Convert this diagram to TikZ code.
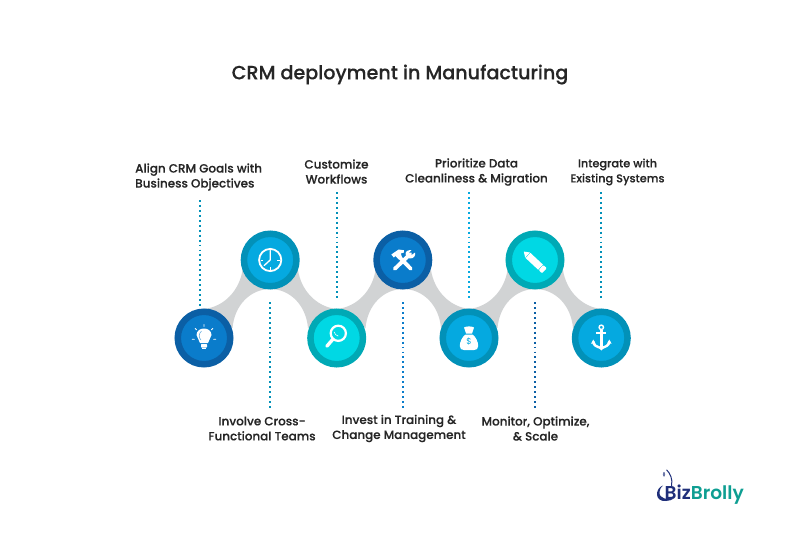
\documentclass[tikz,border=0pt]{standalone}
\usepackage{fontspec}
\setmainfont[FakeBold=0.25]{Poppins Medium}
\newfontfamily\logofont{Poppins SemiBold}
\newfontfamily\dollarfont{Poppins}
\definecolor{ribbon}{HTML}{D1D3D4}
\definecolor{txt}{HTML}{262626}
\definecolor{ringA}{HTML}{0B5FA5}\definecolor{coreA}{HTML}{0A7CCB}
\definecolor{ringB}{HTML}{0291B8}\definecolor{coreB}{HTML}{05A9E0}
\definecolor{ringC}{HTML}{00A9B5}\definecolor{coreC}{HTML}{00D8E4}
\definecolor{logoN}{HTML}{1F2F7A}\definecolor{logoT}{HTML}{0E9E92}
\tikzset{
  disc/.style n args={2}{circle,draw=#1,line width=6.5pt,fill=#2,minimum size=52.5pt,inner sep=0pt},
  lbl/.style={font=\fontsize{11.95}{15}\selectfont,text=txt,align=center,inner sep=0pt},
  dots/.style={line width=1.9pt,dash pattern=on 1.9pt off 3.05pt},
  ribup/.pic={\fill[ribbon] (-1,48) .. controls (20,46) and (35,29) .. (38,9)
     -- (66,28) .. controls (46,28) and (30,44) .. (28,67) -- cycle;},
  ribdn/.pic={\fill[ribbon] (67,48) .. controls (46,46) and (31,29) .. (28,9)
     -- (0,28) .. controls (20,28) and (36,44) .. (38,67) -- cycle;}
}
\begin{document}
\begin{tikzpicture}[x=1pt,y=-1pt]
\useasboundingbox (0,0) rectangle (800,551);
% ribbons
\pic at (204.5,261) {ribup};
\pic at (270,261) {ribdn};
\pic at (337.5,261) {ribup};
\pic at (403,261) {ribdn};
\pic at (469.5,261) {ribup};
\pic at (535,261) {ribdn};
% circles
\node[disc={ringA}{coreA}] (c1) at (204,338) {};
\node[disc={ringB}{coreB}] (c2) at (270.2,260) {};
\node[disc={ringC}{coreC}] (c3) at (336.7,338) {};
\node[disc={ringA}{coreA}] (c4) at (402.8,260) {};
\node[disc={ringB}{coreB}] (c5) at (469,338) {};
\node[disc={ringC}{coreC}] (c6) at (535,260) {};
\node[disc={ringB}{coreB}] (c7) at (601.3,338) {};
% title and labels
\node[font=\fontsize{19.15}{24}\selectfont,text=txt,inner sep=0pt] (title) at (400,74.5) {CRM deployment in Manufacturing};
\node[lbl,align=left,anchor=west] (l1) at (135,177) {Align CRM Goals with\\Business Objectives};
\node[lbl] (l2) at (262,428.5) {Involve Cross-\\Functional Teams};
\node[lbl] (l3) at (336.5,171.5) {Customize\\Workflows};
\node[lbl] (l4) at (399,428.5) {Invest in Training \&\\Change Management};
\node[lbl] (l5) at (476.5,172) {Prioritize Data\\Cleanliness \& Migration};
\node[lbl] (l6) at (535.5,428.5) {Monitor, Optimize,\\\& Scale};
\node[lbl,font=\fontsize{11.3}{15}\selectfont] (l7) at (617.5,172) {Integrate with\\Existing Systems};
% connector end points
\coordinate (a1) at (200,200); \coordinate (b1) at (200,306);
\coordinate (a2) at (270.2,302); \coordinate (b2) at (270.2,408);
\coordinate (a3) at (336.7,192); \coordinate (b3) at (336.7,298);
\coordinate (a4) at (402.8,302); \coordinate (b4) at (402.8,408);
\coordinate (a5) at (469,192); \coordinate (b5) at (469,298);
\coordinate (a6) at (535,302); \coordinate (b6) at (535,408);
\coordinate (a7) at (601.3,192); \coordinate (b7) at (601.3,298);
\draw[dots,ringB] (a1) -- (b1);
\draw[dots,ringB] (a2) -- (b2);
\draw[dots,ringB] (a3) -- (b3);
\draw[dots,coreA] (a4) -- (b4);
\draw[dots,coreB] (a5) -- (b5);
\draw[dots,ringA] (a6) -- (b6);
\draw[dots,ringB] (a7) -- (b7);
% bulb
\begin{scope}[shift={(c1.center)}]
\fill[white] (-4,5) .. controls (-4,1.5) and (-7.5,.5) .. (-7.5,-3)
  .. controls (-7.5,-7) and (-4,-9.5) .. (0,-9.5)
  .. controls (4,-9.5) and (7.5,-7) .. (7.5,-3)
  .. controls (7.5,.5) and (4,1.5) .. (4,5) -- cycle;
\fill[white,rounded corners=.6pt] (-3,6) rectangle (3,9.5);
\fill[white] (-1.6,9.5) rectangle (1.6,11.3);
\draw[coreA!70,line width=.5pt] (-3,2) .. controls (-5.5,-.5) and (-5.5,-4) .. (-2.5,-7);
\draw[white,line width=.8pt,line cap=round]
  (0,-13.5) -- (0,-11.5) (-8.8,-9.5) -- (-7.4,-8.2) (8.8,-9.5) -- (7.4,-8.2)
  (-11.8,1.3) -- (-9.6,1.3) (11.8,1.3) -- (9.6,1.3);
\end{scope}
% clock
\begin{scope}[shift={(c2.center)}]
\draw[white,line width=1.8pt] (0,0) circle[radius=11.1];
\draw[white,line width=1pt] (0,-9.5) -- (0,-7) (0,9.5) -- (0,7) (-9.5,0) -- (-7,0) (9.5,0) -- (7,0);
\draw[white,line width=1.3pt,line join=round,line cap=round] (0,-9.5) -- (0,0) -- (-6,5.5);
\end{scope}
% magnifier
\begin{scope}[shift={(c3.center)}]
\draw[white,line width=2.2pt] (1.6,-4.7) circle[radius=7.6];
\draw[white,line width=.6pt] (-2.5,-6) arc[start angle=170,end angle=100,radius=5];
\draw[white,line width=3.4pt,line cap=round] (-3.8,1.2) -- (-9.8,8.2);
\end{scope}
% tools
\begin{scope}[shift={(c4.center)}]
\draw[white,line width=3.8pt,line cap=round] (-8,8.8) -- (7.5,-6);
\draw[white,line width=3.8pt,line cap=round] (8,8.8) -- (-4,-3.5);
\fill[white] (-11.5,-5.5) -- (-4.2,-10.5) -- (1,-9.8) -- (1,-7.5) -- (-2,-6.5) -- (-1,-3.5) -- (-4,-.5) -- (-7.5,-4) -- (-9,-2.5) -- cycle;
\fill[white] (6.5,-9.8) .. controls (3,-9.5) and (2,-6.5) .. (3.5,-4) -- (7,-1.5) .. controls (11,-1.5) and (13,-4) .. (12.3,-7.5) -- (8.5,-4.8) -- (5.8,-6.8) -- (8.5,-9.8) -- cycle;
\end{scope}
% money bag
\begin{scope}[shift={(c5.center)}]
\fill[white] (-3.5,-3.5) .. controls (-7,-1) and (-9.2,4) .. (-9.2,8)
  .. controls (-9.2,11) and (-7.5,12) .. (-5,12) -- (5,12)
  .. controls (7.5,12) and (9.2,11) .. (9.2,8)
  .. controls (9.2,4) and (7,-1) .. (3.5,-3.5) -- cycle;
\fill[white] (-3,-4.5) -- (-5,-10.5) .. controls (-3,-12) and (3,-12) .. (5,-10.5) -- (3,-4.5) -- cycle;
\node[font=\dollarfont\fontsize{8.5}{9}\selectfont,text=coreB,inner sep=0pt] (dollar) at (0,4) {\$};
\end{scope}
% pencil
\begin{scope}[shift={(535,260)}]
\begin{scope}[shift={(-0.85,1.2)},rotate=-43]
\fill[white] (-14.2,0) -- (-9,-3.5) -- (-9,3.5) -- cycle;
\fill[white] (-8.4,-3.5) -- (8.7,-3.5) -- (8.7,3.5) -- (-8.4,3.5) -- cycle;
\fill[white,rounded corners=1pt] (9.3,-3.5) -- (14,-3.5) -- (14,3.5) -- (9.3,3.5) -- cycle;
\end{scope}
\end{scope}
% anchor
\begin{scope}[shift={(c7.center)}]
\draw[white,line width=1.4pt] (0,-10.7) circle[radius=2.2];
\draw[white,line width=2.4pt] (0,-8.5) -- (0,10);
\draw[white,line width=2pt] (-5,-5.3) -- (5,-5.3);
\draw[white,line width=2.4pt] (-8,3.5) .. controls (-8,7.5) and (-4,9) .. (0,10) .. controls (4,9) and (8,7.5) .. (8,3.5);
\fill[white] (-10.2,5.5) -- (-8,1.5) -- (-5.8,5.5) -- cycle;
\fill[white] (10.2,5.5) -- (8,1.5) -- (5.8,5.5) -- cycle;
\fill[white] (-3,9.5) -- (3,9.5) -- (0,12.5) -- cycle;
\end{scope}
% logo
\draw[logoN,line width=1pt,line cap=round] (666.7,470) .. controls (670,473) and (673,479) .. (671.5,486);
\fill[logoN!65] (664,474.3) ellipse[x radius=1.1,y radius=2.4];
\fill[logoN] (663,485.5) .. controls (655,488) and (654,502) .. (666,501) .. controls (669,500.8) and (672,500) .. (674,498.5)
  .. controls (668,500) and (659,499) .. (659.5,492) .. controls (659.8,489) and (661,487) .. (663,485.5) -- cycle;
\node[anchor=base west,inner sep=0pt,font=\logofont\fontsize{18.6}{20}\selectfont] (logo) at (664.5,499)
  {\textcolor{logoN}{Biz}\textcolor{logoT}{Brolly}};
\end{tikzpicture}
\end{document}
